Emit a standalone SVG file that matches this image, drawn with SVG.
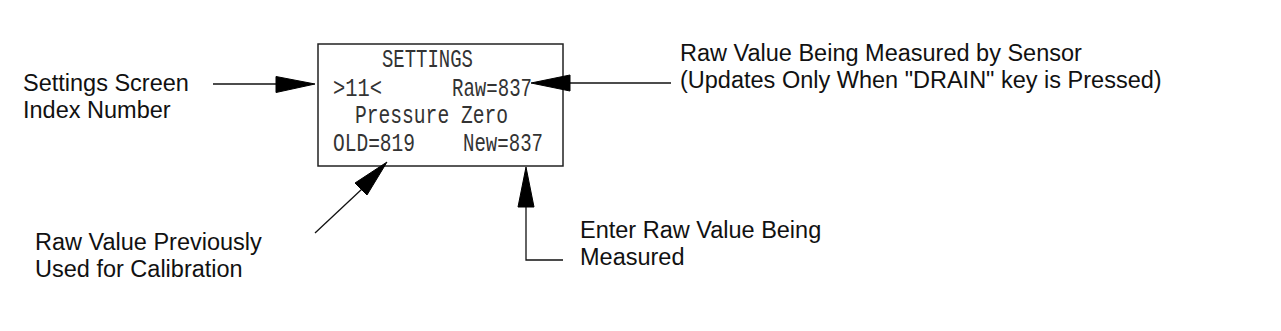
<svg xmlns="http://www.w3.org/2000/svg" width="1281" height="331" viewBox="0 0 1281 331">
<style>
.lbl{font-family:"Liberation Sans",Arial,sans-serif;font-size:23.5px;fill:#111}
.lcd{font-family:"Liberation Mono","Courier New",monospace;font-size:25.5px;fill:#333}
.ln{stroke:#111;stroke-width:1.3;fill:none}
.ah{fill:#000;stroke:#000;stroke-width:1}
</style>
<rect width="1281" height="331" fill="#fff"/>
<g id="screen">
<rect x="318" y="44" width="245" height="122" fill="#fff" stroke="#222" stroke-width="1.5"/>
<text class="lcd" x="382" y="67" textLength="91" lengthAdjust="spacingAndGlyphs">SETTINGS</text>
<text class="lcd" x="333" y="96" textLength="49" lengthAdjust="spacingAndGlyphs">&gt;11&lt;</text>
<text class="lcd" x="452" y="96" textLength="80" lengthAdjust="spacingAndGlyphs">Raw=837</text>
<text class="lcd" x="355" y="123" textLength="153" lengthAdjust="spacingAndGlyphs">Pressure Zero</text>
<text class="lcd" x="333" y="151" textLength="82" lengthAdjust="spacingAndGlyphs">OLD=819</text>
<text class="lcd" x="463" y="151" textLength="80" lengthAdjust="spacingAndGlyphs">New=837</text>
</g>
<g id="label-index">
<text class="lbl" x="23" y="91">Settings Screen</text>
<text class="lbl" x="23" y="118">Index Number</text>
</g>
<g id="label-raw">
<text class="lbl" x="680" y="61">Raw Value Being Measured by Sensor</text>
<text class="lbl" x="680" y="88">(Updates Only When "DRAIN" key is Pressed)</text>
</g>
<g id="label-old">
<text class="lbl" x="35" y="250">Raw Value Previously</text>
<text class="lbl" x="35" y="277">Used for Calibration</text>
</g>
<g id="label-new">
<text class="lbl" x="580" y="238">Enter Raw Value Being</text>
<text class="lbl" x="580" y="265">Measured</text>
</g>
<g id="connectors">
<line class="ln" x1="213" y1="84" x2="277" y2="84"/>
<polygon class="ah" points="276,76.5 315,84 276,92.5"/>
<line class="ln" x1="569" y1="83" x2="671" y2="83"/>
<polygon class="ah" points="531,83 570,75 570,91"/>
<line class="ln" x1="315" y1="233" x2="362" y2="189"/>
<polygon class="ah" points="387,162 355,183 367,195"/>
<polyline class="ln" points="526,206 526,260 563,260"/>
<polygon class="ah" points="526,167 518,207 534,207"/>
</g>
</svg>
